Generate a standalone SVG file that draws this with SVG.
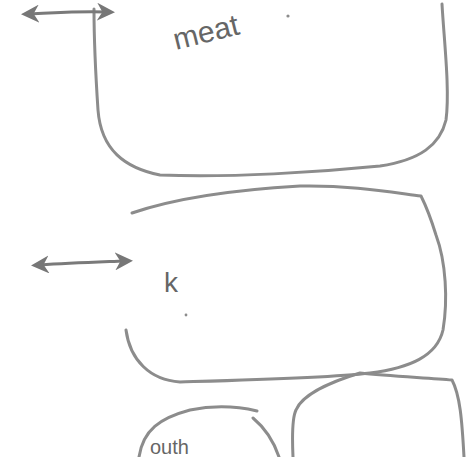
<svg xmlns="http://www.w3.org/2000/svg" width="472" height="457" viewBox="0 0 472 457">
<defs>
<style>
.s{fill:none;stroke:#8c8c8c;stroke-width:3;stroke-linecap:round;stroke-linejoin:round}
.d{stroke:#7a7a7a}
.t{font-family:"Liberation Sans",Arial,sans-serif;fill:#666666}
</style>
<marker id="ah" viewBox="0 0 10 10" refX="5" refY="5" markerWidth="18" markerHeight="18" orient="auto-start-reverse" markerUnits="userSpaceOnUse">
<path d="M0,0 L10,5 L0,10 L3,5 Z" fill="#777777"/>
</marker>
</defs>
<rect width="472" height="457" fill="#ffffff"/>
<g id="node-meat">
<path class="s" d="M94,9 C94,40 96,80 98,110 C101,150 125,168 160,175 C230,178 320,172 380,166 C420,160 440,145 446,120 C450,90 444,40 442,4"/>
<text class="t" x="176" y="50" font-size="30" transform="rotate(-14 176 50)">meat</text>
<circle cx="288" cy="16" r="1.6" fill="#8c8c8c"/>
</g>
<g id="node-k">
<path class="s" d="M132,213 C170,200 230,190 300,186 C350,185 390,192 421,196 C428,210 432,222 436,235 C446,262 448,300 443,330 C437,356 410,368 370,373 C330,378 250,380 180,382 C150,380 130,360 126,330"/>
<text class="t" x="164" y="292" font-size="28">k</text>
<circle cx="186" cy="315" r="1.4" fill="#8c8c8c"/>
</g>
<g id="node-right">
<path class="s" d="M293,457 C292,435 292,418 296,410 C302,395 330,382 360,373 C390,376 430,378 452,380 C460,395 462,420 464,457"/>
</g>
<g id="node-bottom">
<path class="s" d="M139,457 C143,430 160,418 190,410 C215,405 240,407 257,411"/>
<path class="s" d="M253,418 C265,428 274,442 279,457"/>
<text class="t" x="150" y="454" font-size="20">outh</text>
</g>
<g id="connectors">
<path class="s d" d="M30,14 C55,13 75,11 106,12" marker-start="url(#ah)" marker-end="url(#ah)"/>
<path class="s d" d="M40,265 C70,263 100,262 124,261" marker-start="url(#ah)" marker-end="url(#ah)"/>
</g>
</svg>
